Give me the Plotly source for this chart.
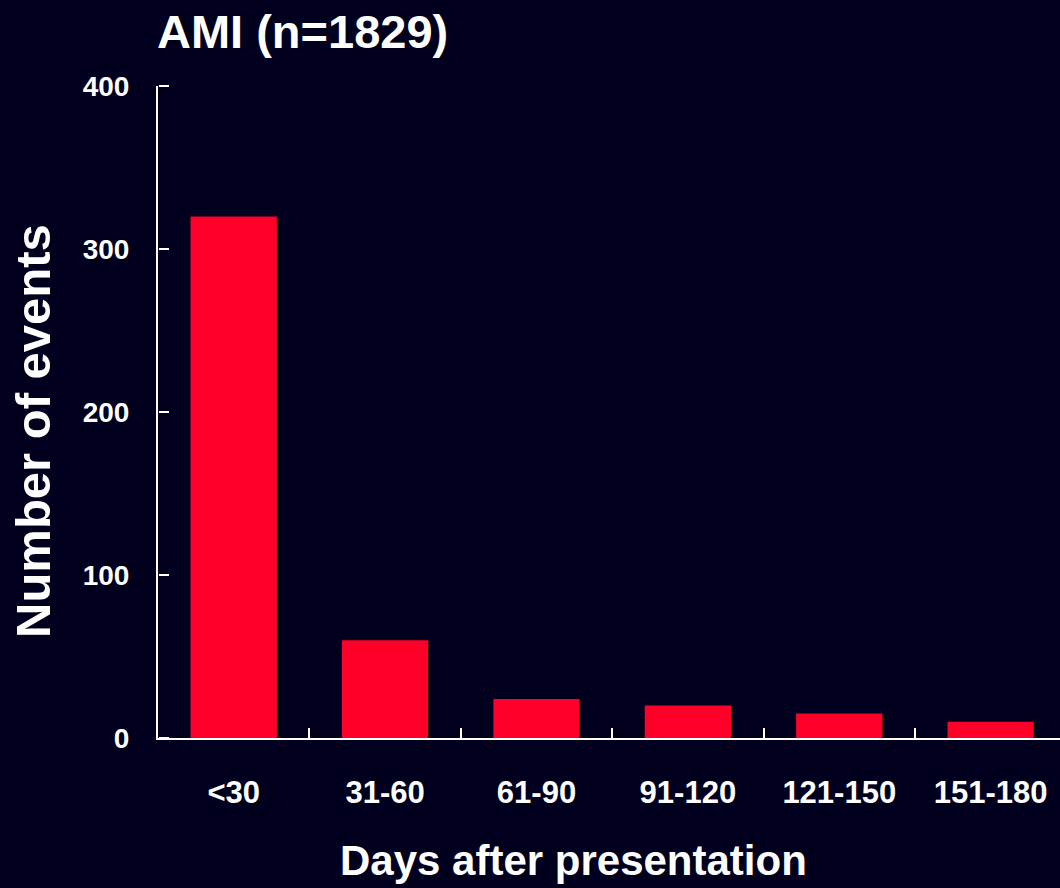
import plotly.graph_objects as go

categories = ["<30", "31-60", "61-90", "91-120", "121-150", "151-180"]
events = [320, 60, 24, 20, 15, 10]
y_ticks = [0, 100, 200, 300, 400]

BG = "#00001E"
BAR = "#FF0028"
FONT = "Liberation Sans, Arial, sans-serif"

fig = go.Figure(go.Bar(x=categories, y=events, marker=dict(color=BAR, line=dict(width=0)), width=0.57))
# helper trace so a tick-only overlay axis is drawn (right-pointing y ticks)
fig.add_trace(go.Scatter(x=categories, y=events, yaxis="y2", mode="markers",
                         marker=dict(opacity=0), hoverinfo="skip", showlegend=False))

fig.update_layout(
    width=1060, height=888,
    paper_bgcolor=BG, plot_bgcolor=BG,
    margin=dict(l=158, r=0, t=86, b=150),
    showlegend=False,
    font=dict(family=FONT, color="white"),
    title=dict(text="AMI (n=1829)", x=157/1060, xanchor="left", y=1-32/888, yanchor="middle",
               font=dict(size=47, color="white", family=FONT, weight="bold")),
    yaxis2=dict(overlaying="y", anchor="free", position=0, side="right",
                range=[0, 400], tickmode="array", tickvals=y_ticks,
                ticks="outside", ticklen=10, tickwidth=2, tickcolor="white",
                showticklabels=False, showline=False, showgrid=False, zeroline=False),
)
fig.update_xaxes(
    type="category", range=[-0.5, 5.458],
    showline=True, linecolor="white", linewidth=2,
    ticks="inside", tickson="boundaries", ticklen=10, tickwidth=2, tickcolor="white",
    showgrid=False, zeroline=False,
    tickfont=dict(size=31, color="white", family=FONT, weight="bold"),
    ticklabelstandoff=26,
)
fig.update_yaxes(
    selector=dict(overlaying=None),
    range=[0, 400], tickmode="array", tickvals=y_ticks,
    showline=True, linecolor="white", linewidth=2,
    ticks="", showgrid=False, zeroline=False,
    tickfont=dict(size=28, color="white", family=FONT, weight="bold"),
    ticklabelstandoff=21,
)
fig.add_annotation(text="Days after presentation", xref="paper", yref="paper",
                   x=(573-158)/902, y=(738-861)/652, showarrow=False,
                   font=dict(size=42, color="white", family=FONT, weight="bold"),
                   xanchor="center", yanchor="middle")
fig.add_annotation(text="Number of events", xref="paper", yref="paper",
                   x=(33-158)/902, y=(738-431)/652, showarrow=False, textangle=-90,
                   font=dict(size=49, color="white", family=FONT, weight="bold"),
                   xanchor="center", yanchor="middle")

fig.write_html("out.html")
